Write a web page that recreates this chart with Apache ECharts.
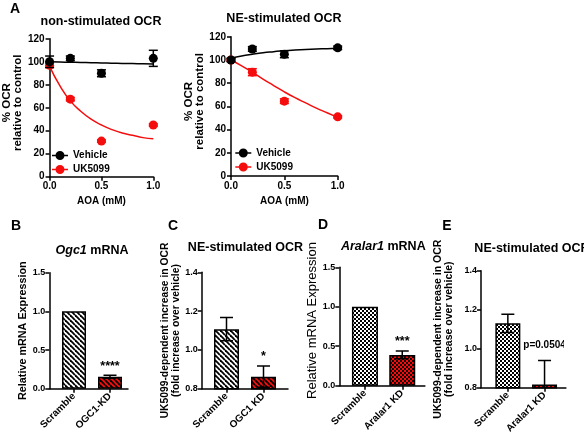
<!DOCTYPE html>
<html><head><meta charset="utf-8">
<script src="https://cdn.jsdelivr.net/npm/echarts@6/dist/echarts.min.js"></script>
<style>html,body{margin:0;padding:0;background:#fff}#c{width:584px;height:436px}</style>
</head><body><div id="c"></div>
<script>
// ---------------- data ----------------
const aoaDoses = [0, 0.2, 0.5, 1.0];
const nsVehicleMean = [100, 103, 90, 103];
const nsVehicleSem  = [5, 2, 3, 7];
const nsUK5099Mean  = [97, 67.5, 31, 45];
const nsUK5099Sem   = [2, 1.5, 1, 1];
const neVehicleMean = [100, 109.5, 105, 110.5];
const neVehicleSem  = [1.5, 2, 3, 1.5];
const neUK5099Mean  = [100, 89.5, 64.5, 51];
const neUK5099Sem   = [1, 3, 2, 1];

const fitDoses     = [0, 0.1, 0.2, 0.3, 0.4, 0.5, 0.6, 0.7, 0.8, 0.9, 1.0];
const nsVehicleFit = [100, 99.8, 99.6, 99.4, 99.2, 99, 98.8, 98.6, 98.4, 98.2, 98];
const nsUK5099Fit  = [96, 79, 66, 57, 50, 45, 41, 38, 36, 34, 33];
const neVehicleFit = [101.5, 103.5, 105, 106.3, 107.2, 108, 108.6, 109.1, 109.5, 109.8, 110.2];
const neUK5099Fit  = [100, 95, 89.5, 83.5, 78, 72.5, 67.5, 63, 58.5, 54.5, 50.5];

const aoaTicks = [0, 0.5, 1.0];
const ocrTicks = [0, 20, 40, 60, 80, 100, 120];
const mrnaTicks = [0, 0.5, 1.0, 1.5];
const foldTicks = [0.8, 1.0, 1.2, 1.4];

const ogc1MrnaCats = ['Scramble', 'OGC1-KD'];
const ogc1Mrna     = [1.0, 0.155];
const ogc1MrnaSem  = [0, 0.02];
const ogc1MrnaSig  = ['', '****'];

const ogc1OcrCats = ['Scramble', 'OGC1 KD'];
const ogc1Ocr     = [1.107, 0.862];
const ogc1OcrSem  = [0.06, 0.055];
const ogc1OcrSig  = ['', '*'];

const aralarMrnaCats = ['Scramble', 'Aralar1 KD'];
const aralarMrna     = [1.0, 0.39];
const aralarMrnaSem  = [0, 0.05];
const aralarMrnaSig  = ['', '***'];

const aralarOcrCats = ['Scramble', 'Aralar1 KD'];
const aralarOcr     = [1.13, 0.817];
const aralarOcrSem  = [0.047, 0.122];
const aralarOcrSig  = ['', 'p=0.0504'];

// ---------------- helpers ----------------
const FONT = "'Liberation Sans', Arial, Helvetica, sans-serif";
const RED = '#f50d0d';

function stripePattern(bg, fg) {
  const s = 5, c = document.createElement('canvas');
  c.width = s; c.height = s;
  const g = c.getContext('2d');
  g.fillStyle = bg; g.fillRect(0, 0, s, s);
  g.strokeStyle = fg; g.lineWidth = 1.8;
  for (let k = -1; k <= 1; k++) { g.beginPath(); g.moveTo(0, k * s); g.lineTo(s, s + k * s); g.stroke(); }
  return { image: c, repeat: 'repeat' };
}
function checkerPattern(bg, fg) {
  const s = 4, h = 2, c = document.createElement('canvas');
  c.width = s; c.height = s;
  const g = c.getContext('2d');
  g.fillStyle = bg; g.fillRect(0, 0, s, s);
  g.fillStyle = fg; g.fillRect(0, 0, h, h); g.fillRect(h, h, h, h);
  return { image: c, repeat: 'repeat' };
}

function errRender(cap, color, sig, sigOffset) {
  return function (params, api) {
    const x = api.value(0), lo = api.value(1), hi = api.value(2);
    const pHi = api.coord([x, hi]), pLo = api.coord([x, lo]);
    const st = { stroke: color, lineWidth: 1.5 };
    const ch = [];
    if (hi !== lo) {
      ch.push({ type: 'line', shape: { x1: pHi[0], y1: pHi[1], x2: pLo[0], y2: pLo[1] }, style: st });
      ch.push({ type: 'line', shape: { x1: pHi[0] - cap, y1: pHi[1], x2: pHi[0] + cap, y2: pHi[1] }, style: st });
      ch.push({ type: 'line', shape: { x1: pLo[0] - cap, y1: pLo[1], x2: pLo[0] + cap, y2: pLo[1] }, style: st });
    }
    const t = sig && sig[params.dataIndex];
    if (t) {
      const star = /^\*+$/.test(t);
      ch.push({ type: 'text', style: { text: t, x: pHi[0], y: pHi[1] - sigOffset + (star ? 3 : 0),
        align: 'center', verticalAlign: 'middle', font: 'bold ' + (star ? 12.5 : 10) + 'px ' + FONT, fill: '#000' } });
    }
    return { type: 'group', children: ch };
  };
}
function errData(xs, m, s) { return xs.map((x, i) => [x, m[i] - s[i], m[i] + s[i]]); }

const axLine = { show: true, onZero: false, lineStyle: { color: '#000', width: 1.5 } };
const axTick = { show: true, length: 4, lineStyle: { color: '#000', width: 1.5 } };

// ---------------- panel A ----------------
const grids = [], xAxes = [], yAxes = [], series = [];
function addCurvePanel(g, veh, vehSem, uk, ukSem, vehFit, ukFit) {
  const gi = grids.length;
  grids.push({ left: g.left, top: g.top, width: g.width, height: g.height });
  xAxes.push({ gridIndex: gi, type: 'value', min: aoaTicks[0], max: aoaTicks[aoaTicks.length - 1],
    interval: aoaTicks[1] - aoaTicks[0], axisLine: axLine, axisTick: axTick, splitLine: { show: false },
    axisLabel: { formatter: v => v.toFixed(1), color: '#000', fontSize: 10, fontWeight: 'bold', fontFamily: FONT, margin: 5 },
    name: 'AOA (mM)', nameLocation: 'middle', nameGap: 20,
    nameTextStyle: { color: '#000', fontSize: 10, fontWeight: 'bold', fontFamily: FONT } });
  yAxes.push({ gridIndex: gi, type: 'value', min: ocrTicks[0], max: ocrTicks[ocrTicks.length - 1],
    interval: ocrTicks[1] - ocrTicks[0], axisLine: axLine, axisTick: axTick, splitLine: { show: false },
    axisLabel: { color: '#000', fontSize: 10, fontWeight: 'bold', fontFamily: FONT, margin: 5 },
    name: '% OCR\nrelative to control', nameLocation: 'middle', nameGap: g.nameGap, nameRotate: 90,
    nameTextStyle: { color: '#000', fontSize: 11.5, fontWeight: 'bold', fontFamily: FONT, lineHeight: 11, padding: [0, 0, 0, 10] } });
  const ax = { xAxisIndex: gi, yAxisIndex: gi };
  series.push(Object.assign({ type: 'line', name: 'UK5099 fit', smooth: true, showSymbol: false, silent: true,
    data: fitDoses.map((d, i) => [d, ukFit[i]]), lineStyle: { color: RED, width: 1.5 }, z: 2 }, ax));
  series.push(Object.assign({ type: 'custom', name: 'UK5099 err', renderItem: errRender(4.5, RED),
    data: errData(aoaDoses, uk, ukSem), encode: { x: 0, y: [1, 2] }, z: 3 }, ax));
  series.push(Object.assign({ type: 'scatter', name: 'UK5099', symbol: 'circle', symbolSize: 9,
    data: aoaDoses.map((d, i) => [d, uk[i]]), itemStyle: { color: RED, opacity: 1 }, z: 4 }, ax));
  series.push(Object.assign({ type: 'line', name: 'Vehicle fit', smooth: true, showSymbol: false, silent: true,
    data: fitDoses.map((d, i) => [d, vehFit[i]]), lineStyle: { color: '#000', width: 1.5 }, z: 5 }, ax));
  series.push(Object.assign({ type: 'custom', name: 'Vehicle err', renderItem: errRender(4.5, '#000'),
    data: errData(aoaDoses, veh, vehSem), encode: { x: 0, y: [1, 2] }, z: 6 }, ax));
  series.push(Object.assign({ type: 'scatter', name: 'Vehicle', symbol: 'circle', symbolSize: 9,
    data: aoaDoses.map((d, i) => [d, veh[i]]), itemStyle: { color: '#000', opacity: 1 }, z: 7 }, ax));
}
addCurvePanel({ left: 49.3, top: 38.8, width: 104, height: 137.9, nameGap: 17 },
  nsVehicleMean, nsVehicleSem, nsUK5099Mean, nsUK5099Sem, nsVehicleFit, nsUK5099Fit);
addCurvePanel({ left: 231, top: 36.8, width: 106.7, height: 139.2, nameGap: 15 },
  neVehicleMean, neVehicleSem, neUK5099Mean, neUK5099Sem, neVehicleFit, neUK5099Fit);

// ---------------- bar panels ----------------
function addBarPanel(p) {
  const gi = grids.length;
  grids.push({ left: p.left, top: p.top, width: p.width, height: p.height });
  xAxes.push({ gridIndex: gi, type: 'category', data: p.cats, axisLine: { show: false },
    axisTick: Object.assign({ alignWithLabel: true }, axTick),
    axisLabel: { interval: 0, rotate: 45, color: '#000', fontSize: 10, fontWeight: 'bold', fontFamily: FONT, margin: 6 } });
  yAxes.push({ gridIndex: gi, type: 'value', min: p.ticks[0], max: p.ticks[p.ticks.length - 1],
    interval: Math.round((p.ticks[1] - p.ticks[0]) * 10) / 10, offset: p.offset,
    axisLine: axLine, axisTick: axTick, splitLine: { show: false },
    axisLabel: { formatter: v => v.toFixed(1), color: '#000', fontSize: 9, fontWeight: 'bold', fontFamily: FONT, margin: 4 },
    name: p.yName, nameLocation: 'middle', nameGap: p.nameGap, nameRotate: 90,
    nameTextStyle: Object.assign({ color: '#000', fontFamily: FONT }, p.nameStyle) });
  series.push({ type: 'bar', name: 'bars' + gi, xAxisIndex: gi, yAxisIndex: gi, barWidth: p.barWidth,
    clip: true, silent: true,
    data: p.values.map((v, i) => ({ value: v, itemStyle: { color: p.fills[i] } })),
    itemStyle: { borderColor: '#000', borderWidth: 1.5 } });
  series.push({ type: 'custom', name: 'err' + gi, xAxisIndex: gi, yAxisIndex: gi, clip: true,
    renderItem: errRender(6.5, '#000', p.sig, p.sigOffset),
    data: p.values.map((v, i) => [i, v - p.sem[i], v + p.sem[i]]), encode: { x: 0, y: [1, 2] }, z: 5 });
  // baseline axis spanning from the y-axis to the end of the x-axis line
  const bi = grids.length;
  grids.push({ left: p.left - p.offset, top: p.top, width: p.width + p.offset + p.extra, height: p.height });
  xAxes.push({ gridIndex: bi, type: 'value', min: 0, max: 1, axisLine: axLine, axisTick: { show: false },
    axisLabel: { show: false }, splitLine: { show: false } });
  yAxes.push({ gridIndex: bi, type: 'value', show: false });
}
const stripeW = stripePattern('#ffffff', '#000000');
const stripeR = stripePattern(RED, '#000000');
const checkW = checkerPattern('#ffffff', '#000000');
const checkR = checkerPattern(RED, '#1a0000');

addBarPanel({ left: 56, top: 272.7, width: 72, height: 116, offset: 6.7, extra: 0, barWidth: 24,
  cats: ogc1MrnaCats, values: ogc1Mrna, sem: ogc1MrnaSem, sig: ogc1MrnaSig, sigOffset: 12,
  ticks: mrnaTicks, fills: [stripeW, stripeR], yName: 'Relative mRNA Expression', nameGap: 20,
  nameStyle: { fontSize: 10.8, fontWeight: 'bold' } });
addBarPanel({ left: 208, top: 272.3, width: 74, height: 116.4, offset: 6.3, extra: 6, barWidth: 25,
  cats: ogc1OcrCats, values: ogc1Ocr, sem: ogc1OcrSem, sig: ogc1OcrSig, sigOffset: 12,
  ticks: foldTicks, fills: [stripeW, stripeR], yName: 'UK5099-dependent increase in OCR\n(fold increase over vehicle)',
  nameGap: 19, nameStyle: { fontSize: 10.3, fontWeight: 'bold', lineHeight: 11 } });
addBarPanel({ left: 346.3, top: 267.3, width: 74.6, height: 118.4, offset: 7, extra: 4, barWidth: 26,
  cats: aralarMrnaCats, values: aralarMrna, sem: aralarMrnaSem, sig: aralarMrnaSig, sigOffset: 12,
  ticks: mrnaTicks, fills: [checkW, checkR], yName: 'Relative mRNA Expression', nameGap: 17,
  nameStyle: { fontSize: 13, fontWeight: 'normal', padding: [0, 0, 0, 12] } });
addBarPanel({ left: 489.5, top: 270.7, width: 73.4, height: 117, offset: 8.5, extra: 3, barWidth: 25,
  cats: aralarOcrCats, values: aralarOcr, sem: aralarOcrSem, sig: aralarOcrSig, sigOffset: 15.7,
  ticks: foldTicks, fills: [checkW, checkR], yName: 'UK5099-dependent increase in OCR\n(fold increase over vehicle)',
  nameGap: 26, nameStyle: { fontSize: 10.5, fontWeight: 'bold', lineHeight: 11.5 } });

// ---------------- texts ----------------
function txt(t, x, y, size) {
  return { type: 'text', x: x, y: y, silent: true,
    style: { text: t, font: 'bold ' + size + 'px ' + FONT, fill: '#000', align: 'center', verticalAlign: 'middle' } };
}
function richTitle(it, rest, x, y) {
  return { type: 'text', x: x, y: y, silent: true, style: { text: '{i|' + it + '}{n|' + rest + '}', align: 'center', verticalAlign: 'middle',
    rich: { i: { font: 'italic bold 12.5px ' + FONT, fill: '#000' }, n: { font: 'bold 12.5px ' + FONT, fill: '#000' } } } };
}
const graphics = [
  txt('A', 15, 9, 14), txt('B', 16, 226, 14), txt('C', 173, 226, 14), txt('D', 323, 225, 14), txt('E', 447, 226, 14),
  txt('non-stimulated OCR', 101, 21.7, 12.5),
  txt('NE-stimulated OCR', 284, 19, 12.5),
  txt('NE-stimulated OCR', 245.5, 247.7, 12.5),
  txt('NE-stimulated OCR', 532, 249, 12.5),
  richTitle('Ogc1', ' mRNA', 92, 250.7),
  richTitle('Aralar1', ' mRNA', 383.3, 246.7)
];

const legendIcon = 'path://M0,3.8H16V5.2H0Z M8,0 A4.5,4.5 0 1 1 7.99,0 Z';
function legend(left, top) {
  return { orient: 'vertical', left: left, top: top, itemWidth: 16, itemHeight: 9, itemGap: 4, padding: 0,
    icon: legendIcon, data: ['Vehicle', 'UK5099'], selectedMode: false,
    textStyle: { color: '#000', fontSize: 10, fontWeight: 'bold', fontFamily: FONT } };
}

const chart = echarts.init(document.getElementById('c'), null, { renderer: 'canvas' });
chart.setOption({
  animation: false,
  backgroundColor: '#fff',
  grid: grids, xAxis: xAxes, yAxis: yAxes, series: series,
  legend: [legend(52, 150.5), legend(235.3, 148)],
  graphic: graphics
});
</script></body></html>
